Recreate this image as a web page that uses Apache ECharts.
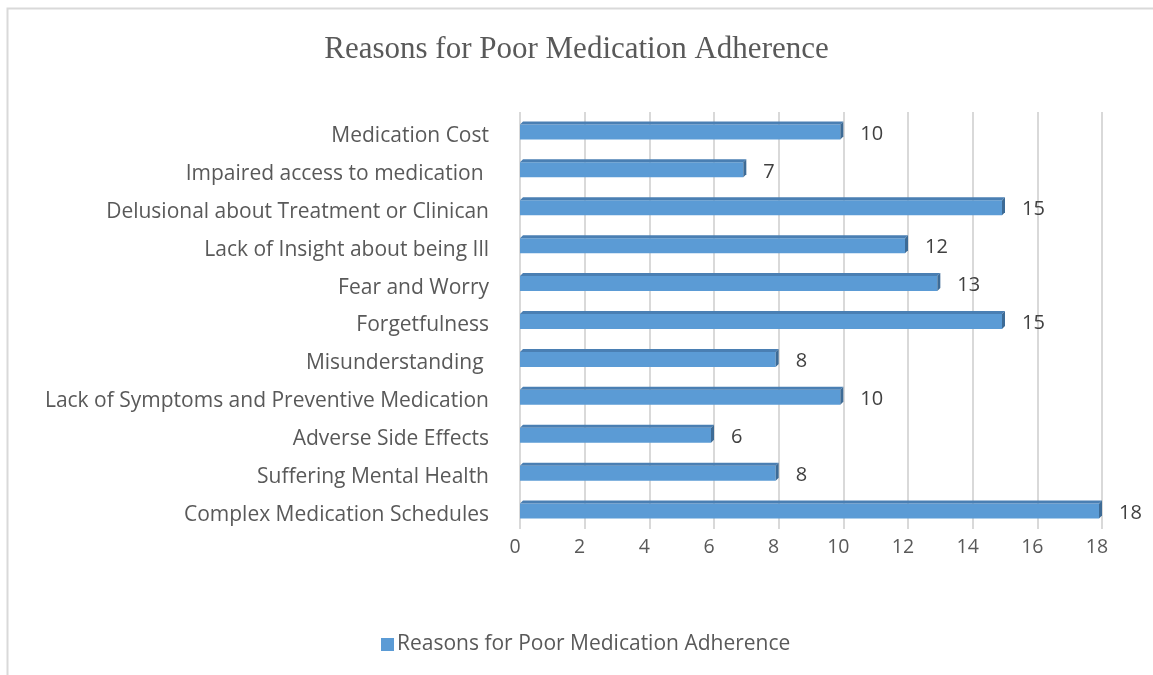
<!DOCTYPE html>
<html>
<head>
<meta charset="utf-8">
<script src="https://cdn.jsdelivr.net/npm/echarts@6/dist/echarts.min.js"></script>
<style>
  html, body { margin: 0; padding: 0; background: #fff; }
  #chart { width: 1153px; height: 675px; }
</style>
</head>
<body>
<div id="chart"></div>
<script>
const categories = [
  'Medication Cost',
  'Impaired access to medication ',
  'Delusional about Treatment or Clinican',
  'Lack of Insight about being Ill',
  'Fear and Worry',
  'Forgetfulness',
  'Misunderstanding ',
  'Lack of Symptoms and Preventive Medication',
  'Adverse Side Effects',
  'Suffering Mental Health',
  'Complex Medication Schedules'
]
const values = [10, 7, 15, 12, 13, 15, 8, 10, 6, 8, 18]
const xTicks = [0, 2, 4, 6, 8, 10, 12, 14, 16, 18]

const seriesName = 'Reasons for Poor Medication Adherence'
const textFamily = 'Open Sans'
const labelFont = '20px "Open Sans"'

// flat front face plus a thin top and side face to mimic the excel 3d bar
const renderBar = (params, api) => {
  const val = api.value(0)
  const cat = api.value(1)
  const p0 = api.coord([0, cat])
  const p1 = api.coord([val, cat])
  const h = 15
  const d = 3
  const x0 = p0[0]
  const x1 = p1[0] - d
  const yTop = p0[1] - h / 2 + 1
  const yBot = p0[1] + h / 2 + 1
  return {
    type: 'group',
    children: [
      {
        type: 'rect',
        shape: { x: x0, y: yTop, width: x1 - x0, height: h },
        style: { fill: '#5b9bd5' }
      },
      {
        type: 'polygon',
        shape: { points: [[x0, yTop], [x0 + d, yTop - d], [x1 + d, yTop - d], [x1, yTop]] },
        style: { fill: '#4a7fb3' }
      },
      {
        type: 'polygon',
        shape: { points: [[x1, yTop], [x1 + d, yTop - d], [x1 + d, yBot - d], [x1, yBot]] },
        style: { fill: '#3d6b96' }
      },
      {
        type: 'text',
        style: {
          text: String(val),
          x: x1 + d + 17,
          y: p0[1] + 3,
          align: 'left',
          verticalAlign: 'middle',
          fill: '#404040',
          font: labelFont
        }
      }
    ]
  }
}

const chart = echarts.init(document.getElementById('chart'))
chart.setOption({
  backgroundColor: '#fff',
  title: {
    text: seriesName,
    left: 'center',
    top: 29,
    textStyle: {
      fontFamily: 'Liberation Serif',
      fontWeight: 'normal',
      fontSize: 31,
      color: '#595959'
    }
  },
  graphic: [
    {
      type: 'polyline',
      shape: { points: [[1160, 8.5], [7.5, 8.5], [7.5, 680]] },
      style: { stroke: '#d9d9d9', lineWidth: 2, fill: null },
      silent: true
    }
  ],
  legend: {
    bottom: 15,
    left: 376,
    icon: 'rect',
    itemWidth: 13,
    itemHeight: 13,
    itemGap: 6,
    textStyle: { fontFamily: textFamily, fontSize: 21, color: '#595959', padding: [0, 0, 0, -2] },
    data: [seriesName]
  },
  grid: {
    left: 520,
    right: 51,
    top: 112,
    bottom: 146
  },
  xAxis: {
    type: 'value',
    min: 0,
    max: 18,
    interval: 2,
    axisLine: { show: false },
    axisTick: { show: false },
    axisLabel: {
      margin: 8,
      fontFamily: textFamily,
      fontSize: 19.5,
      color: '#595959',
      padding: [0, 10, 0, 0],
      formatter: v => xTicks.includes(v) ? String(v) : ''
    },
    splitLine: { lineStyle: { color: '#d9d9d9', width: 2 } }
  },
  yAxis: {
    type: 'category',
    inverse: true,
    data: categories,
    axisLine: { show: false },
    axisTick: { show: false },
    axisLabel: {
      margin: 31,
      formatter: v => '{c|' + v + '}',
      rich: {
        c: {
          fontFamily: textFamily,
          fontSize: 21,
          color: '#595959',
          padding: [10, 0, 0, 0]
        }
      }
    }
  },
  series: [
    {
      name: seriesName,
      type: 'custom',
      itemStyle: { color: '#5b9bd5' },
      renderItem: renderBar,
      encode: { x: 0, y: 1 },
      data: values.map((v, i) => [v, i])
    }
  ]
})
</script>
</body>
</html>
